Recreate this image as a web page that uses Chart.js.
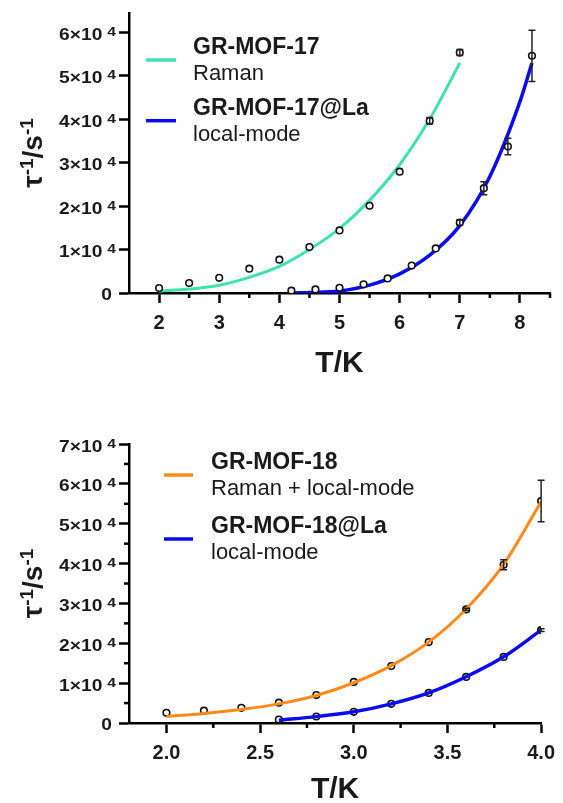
<!DOCTYPE html>
<html>
<head>
<meta charset="utf-8">
<script src="https://cdn.jsdelivr.net/npm/chart.js"></script>
<style>
html,body{margin:0;padding:0;background:#fff;}
#wrap{position:relative;width:563px;height:803px;}
.box{position:absolute;left:0;width:563px;}
</style>
</head>
<body>
<div id="wrap">
  <div class="box" style="top:0;height:400px"><canvas id="topchart" width="563" height="400"></canvas></div>
  <div class="box" style="top:400px;height:403px"><canvas id="botchart" width="563" height="403"></canvas></div>
</div>
<script>
// ---- GR-MOF-17 (top panel) ----
var t17 = [2, 2.5, 3, 3.5, 4, 4.5, 5, 5.5, 6, 6.5, 7];
var r17 = [1150, 2300, 3500, 5600, 7660, 10570, 14400, 20070, 27900, 39600, 55300];
var e17 = [0, 0, 0, 0, 0, 0, 0, 0, 0, 750, 700];
var fitT17 = [2, 2.5, 3, 3.5, 4, 4.5, 5, 5.5, 6, 6.5, 7];
var fitR17 = [400, 900, 1800, 3600, 6100, 10000, 14800, 21300, 29500, 40000, 52900];

var t17La = [4.2, 4.6, 5.0, 5.4, 5.8, 6.2, 6.6, 7.0, 7.4, 7.8, 8.2];
var r17La = [530, 830, 1200, 2000, 3360, 6300, 10250, 16200, 24100, 33700, 54550];
var e17La = [0, 0, 0, 0, 0, 0, 0, 600, 1500, 1900, 5900];
var fitT17La = [4.25, 4.5, 5, 5.5, 6, 6.5, 7, 7.5, 8, 8.2];
var fitR17La = [0, 100, 450, 1800, 4400, 8700, 15500, 26800, 44000, 52900];

var xMajor17 = [2, 3, 4, 5, 6, 7, 8];
var xLabels17 = ['2', '3', '4', '5', '6', '7', '8'];
var xMinor17 = [2.5, 3.5, 4.5, 5.5, 6.5, 7.5, 8.5];
var yMajor17 = [0, 10000, 20000, 30000, 40000, 50000, 60000];
var yLabels17 = ['0', '1×10⁴', '2×10⁴', '3×10⁴', '4×10⁴', '5×10⁴', '6×10⁴'];

var names17 = ['GR-MOF-17', 'GR-MOF-17@La'];
var descs17 = ['Raman', 'local-mode'];

// ---- GR-MOF-18 (bottom panel) ----
var t18 = [2.0, 2.2, 2.4, 2.6, 2.8, 3.0, 3.2, 3.4, 3.6, 3.8, 4.0];
var r18 = [2550, 3100, 3800, 5100, 7000, 10300, 14300, 20300, 28500, 39700, 55700];
var e18 = [0, 0, 0, 0, 0, 0, 0, 0, 300, 1250, 5200];
var fitT18 = [2.0, 2.2, 2.4, 2.6, 2.8, 3.0, 3.2, 3.4, 3.6, 3.8, 4.0];
var fitR18 = [1600, 2400, 3400, 4800, 6900, 10100, 14400, 20300, 28600, 39800, 55500];

var t18La = [2.6, 2.8, 3.0, 3.2, 3.4, 3.6, 3.8, 4.0];
var r18La = [880, 1630, 2800, 4800, 7550, 11560, 16570, 23300];
var e18La = [0, 0, 0, 0, 0, 0, 0, 350];
var fitT18La = [2.6, 2.8, 3.0, 3.2, 3.4, 3.6, 3.8, 4.0];
var fitR18La = [700, 1600, 2800, 4800, 7550, 11600, 16600, 23300];

var xMajor18 = [2.0, 2.5, 3.0, 3.5, 4.0];
var xLabels18 = ['2.0', '2.5', '3.0', '3.5', '4.0'];
var xMinor18 = [2.25, 2.75, 3.25, 3.75];
var yMajor18 = [0, 10000, 20000, 30000, 40000, 50000, 60000, 70000];
var yLabels18 = ['0', '1×10⁴', '2×10⁴', '3×10⁴', '4×10⁴', '5×10⁴', '6×10⁴', '7×10⁴'];
var yMinor18 = [5000, 15000, 25000, 35000, 45000, 55000, 65000];

var names18 = ['GR-MOF-18', 'GR-MOF-18@La'];
var descs18 = ['Raman + local-mode', 'local-mode'];

// y title pieces: normal, superscript, normal, superscript
var yTitleParts = ['τ', '-1', '/s', '-1'];

var green = '#40e0b0';
var blue = '#0a0cf0';
var orange = '#ff8a1c';
var ink = '#1a1a1a';
var FONT = '"Liberation Sans", Arial, Helvetica, sans-serif';
var SUP = { '⁰': '0', '¹': '1', '²': '2', '³': '3', '⁴': '4', '⁵': '5', '⁶': '6', '⁷': '7', '⁸': '8', '⁹': '9' };

Chart.defaults.font.family = FONT;
Chart.defaults.color = ink;

function pts(xs, ys) {
    return xs.map(function (x, i) { return { x: x, y: ys[i] }; });
}

function fitSet(xs, ys, color, w) {
    return {
        data: pts(xs, ys), showLine: true, borderColor: color, borderWidth: w,
        pointRadius: 0, fill: false, cubicInterpolationMode: 'monotone'
    };
}

function pointSet(xs, ys, errs, fillCol) {
    return {
        data: pts(xs, ys), errors: errs, showLine: false,
        pointRadius: 3.3, pointBorderWidth: 1.6, pointBorderColor: '#111',
        pointBackgroundColor: fillCol
    };
}

// minor tick marks (Chart.js has no minor ticks)
var minorTicks = {
    id: 'minorTicks',
    afterDraw: function (chart, args, o) {
        var ctx = chart.ctx, xs = chart.scales.x, ys = chart.scales.y;
        ctx.save();
        ctx.strokeStyle = '#000';
        ctx.lineWidth = 2.5;
        (o.x || []).forEach(function (v) {
            var px = xs.getPixelForValue(v);
            ctx.beginPath(); ctx.moveTo(px, xs.top); ctx.lineTo(px, xs.top + o.len); ctx.stroke();
        });
        (o.y || []).forEach(function (v) {
            var py = ys.getPixelForValue(v);
            ctx.beginPath(); ctx.moveTo(ys.right, py); ctx.lineTo(ys.right - o.len, py); ctx.stroke();
        });
        ctx.restore();
    }
};

var errorBars = {
    id: 'errorBars',
    afterDatasetsDraw: function (chart) {
        var ctx = chart.ctx, xs = chart.scales.x, ys = chart.scales.y;
        ctx.save();
        ctx.strokeStyle = '#222';
        ctx.lineWidth = 1.5;
        chart.data.datasets.forEach(function (ds) {
            if (!ds.errors) return;
            ds.data.forEach(function (p, j) {
                var e = ds.errors[j];
                if (!e) return;
                var px = xs.getPixelForValue(p.x);
                var a = ys.getPixelForValue(p.y + e), b = ys.getPixelForValue(p.y - e);
                ctx.beginPath();
                ctx.moveTo(px, a); ctx.lineTo(px, b);
                ctx.moveTo(px - 3.5, a); ctx.lineTo(px + 3.5, a);
                ctx.moveTo(px - 3.5, b); ctx.lineTo(px + 3.5, b);
                ctx.stroke();
            });
        });
        ctx.restore();
    }
};

// "n×10⁴" labels with a full-size raised exponent, placed on the y scale ticks
var powerLabels = {
    id: 'powerLabels',
    afterDraw: function (chart, args, o) {
        var ctx = chart.ctx, ys = chart.scales.y;
        var right = ys.right - 13;
        ctx.save();
        ctx.fillStyle = ink;
        ctx.textAlign = 'right';
        ctx.textBaseline = 'alphabetic';
        ys.ticks.forEach(function (t, i) {
            var lab = o.labels[i];
            var py = ys.getPixelForValue(t.value);
            var last = lab.charAt(lab.length - 1);
            ctx.save();
            if (SUP[last]) {
                var base = lab.slice(0, -1);
                ctx.translate(right, py);
                ctx.scale(1.2, 1);
                ctx.font = 'bold 13px ' + FONT;
                ctx.fillText(SUP[last], 0, 3.5);
                var ew = ctx.measureText(SUP[last]).width;
                ctx.font = 'bold 16px ' + FONT;
                ctx.fillText(base, -ew - 5 / 1.2, 7.5);
            } else {
                ctx.translate(right - 4, py);
                ctx.scale(1.2, 1);
                ctx.font = 'bold 16px ' + FONT;
                ctx.fillText(lab, 0, 6.5);
            }
            ctx.restore();
        });
        ctx.restore();
    }
};

// rotated y title with large superscripts
var yTitle = {
    id: 'yTitle',
    afterDraw: function (chart, args, o) {
        var ctx = chart.ctx, area = chart.chartArea;
        var cy = (area.top + area.bottom) / 2;
        var fonts = ['bold 28px ' + FONT, 'bold 19px ' + FONT];
        var total = 0;
        yTitleParts.forEach(function (p, i) {
            ctx.font = fonts[i % 2];
            total += ctx.measureText(p).width;
        });
        ctx.save();
        ctx.translate(o.x, cy);
        ctx.rotate(-Math.PI / 2);
        ctx.fillStyle = ink;
        ctx.textAlign = 'left';
        ctx.textBaseline = 'alphabetic';
        var pos = -total / 2;
        yTitleParts.forEach(function (p, i) {
            ctx.font = fonts[i % 2];
            ctx.fillText(p, pos, i % 2 ? -9 : 0);
            pos += ctx.measureText(p).width;
        });
        ctx.restore();
    }
};

// two-line legend entries drawn inside the plot
var sideLegend = {
    id: 'sideLegend',
    afterDraw: function (chart, args, o) {
        var ctx = chart.ctx;
        ctx.save();
        o.names.forEach(function (name, i) {
            var y = o.y + i * o.gap;
            ctx.strokeStyle = o.colors[i];
            ctx.lineWidth = 3.5;
            ctx.beginPath();
            ctx.moveTo(o.x, y + 5.7); ctx.lineTo(o.x + o.len, y + 5.7);
            ctx.stroke();
            ctx.fillStyle = ink;
            ctx.textBaseline = 'alphabetic';
            ctx.textAlign = 'left';
            ctx.font = 'bold 23px ' + FONT;
            ctx.fillText(name, o.tx, y);
            ctx.font = '22px ' + FONT;
            ctx.fillText(o.descs[i], o.tx, y + 25.7);
        });
        ctx.restore();
    }
};

function axes(o) {
    return {
        x: {
            type: 'linear', min: o.xmin, max: o.xmax,
            afterBuildTicks: function (s) { s.ticks = o.xMajor.map(function (v) { return { value: v }; }); },
            afterFit: function (s) { s.height = o.xh; },
            border: { display: true, color: '#000', width: 2.5 },
            grid: { drawOnChartArea: false, drawTicks: true, tickLength: 10, tickWidth: 2.5, tickColor: '#000' },
            ticks: {
                autoSkip: false, maxRotation: 0, padding: 8, color: ink,
                font: { size: 20, weight: 'bold' },
                callback: function (v, i) { return o.xLabels[i]; }
            },
            title: {
                display: true, text: 'T/K', color: ink,
                font: { size: 30, weight: 'bold', lineHeight: 0.87 },
                padding: { top: 0, bottom: o.titlePad }
            }
        },
        y: {
            type: 'linear', min: 0, max: o.ymax,
            afterBuildTicks: function (s) { s.ticks = o.yMajor.map(function (v) { return { value: v }; }); },
            afterFit: function (s) { s.width = 129; },
            border: { display: true, color: '#000', width: 2.5 },
            grid: { drawOnChartArea: false, drawTicks: true, tickLength: 10, tickWidth: 2.5, tickColor: '#000' },
            ticks: { display: false, autoSkip: false },
            title: { display: false }
        }
    };
}

var topChart = new Chart(document.getElementById('topchart'), {
    type: 'scatter',
    data: {
        datasets: [
            pointSet(t17, r17, e17, '#fff'),
            pointSet(t17La, r17La, e17La, '#fff'),
            fitSet(fitT17, fitR17, green, 3),
            fitSet(fitT17La, fitR17La, blue, 3.5)
        ]
    },
    options: {
        responsive: false, animation: false,
        layout: { padding: { top: 13, right: 13, left: 0, bottom: 0 } },
        scales: axes({
            xmin: 1.5, xmax: 8.5, ymax: 64400, xh: 107, titlePad: 23,
            xMajor: xMajor17, xLabels: xLabels17, yMajor: yMajor17
        }),
        plugins: {
            legend: { display: false },
            tooltip: { enabled: false },
            minorTicks: { x: xMinor17, y: [], len: 5 },
            powerLabels: { labels: yLabels17 },
            yTitle: { x: 42 },
            sideLegend: { names: names17, descs: descs17, colors: [green, blue], x: 146, len: 30, tx: 193, y: 54.3, gap: 60.7 }
        }
    },
    plugins: [minorTicks, errorBars, powerLabels, yTitle, sideLegend]
});

var botChart = new Chart(document.getElementById('botchart'), {
    type: 'scatter',
    data: {
        datasets: [
            fitSet(fitT18, fitR18, orange, 3),
            fitSet(fitT18La, fitR18La, blue, 3.5),
            pointSet(t18, r18, e18, 'rgba(255,255,255,0)'),
            pointSet(t18La, r18La, e18La, 'rgba(255,255,255,0)')
        ]
    },
    options: {
        responsive: false, animation: false,
        layout: { padding: { top: 44, right: 15, left: 0, bottom: 0 } },
        scales: axes({
            xmin: 1.8, xmax: 4.0, ymax: 70000, xh: 80, titlePad: 0,
            xMajor: xMajor18, xLabels: xLabels18, yMajor: yMajor18
        }),
        plugins: {
            legend: { display: false },
            tooltip: { enabled: false },
            minorTicks: { x: xMinor18, y: yMinor18, len: 5 },
            powerLabels: { labels: yLabels18 },
            yTitle: { x: 42 },
            sideLegend: { names: names18, descs: descs18, colors: [orange, blue], x: 164, len: 29, tx: 211, y: 69.3, gap: 64 }
        }
    },
    plugins: [minorTicks, errorBars, powerLabels, yTitle, sideLegend]
});
</script>
</body>
</html>
